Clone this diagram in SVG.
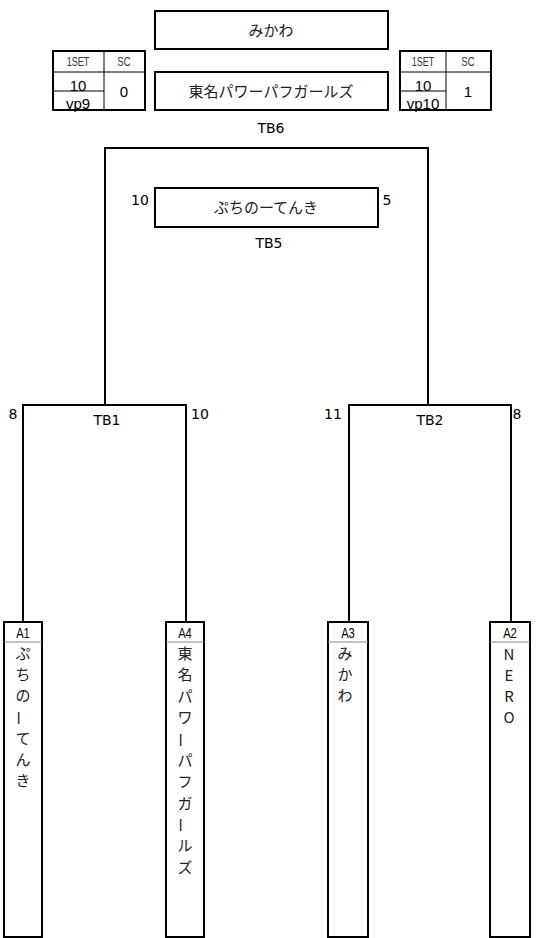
<svg xmlns="http://www.w3.org/2000/svg" width="539" height="938" viewBox="0 0 539 938">
<style>
.box{fill:#fff;stroke:#000;stroke-width:2}
.ln{fill:none;stroke:#000;stroke-width:2}
.thin{fill:none;stroke:#000;stroke-width:1}
.gray{stroke:#888;stroke-width:1}
.jp{font-family:"Noto Sans CJK JP","Liberation Sans",sans-serif;font-size:15px;fill:#222}
.lat{font-family:"DejaVu Sans","Liberation Sans",sans-serif;font-size:14px;fill:#000}
.cond{font-family:"Liberation Sans","DejaVu Sans",sans-serif;font-size:12px;fill:#333}
.hd{font-family:"Liberation Sans","DejaVu Sans",sans-serif;font-size:15px;fill:#000}
.ah{font-family:"Liberation Sans","DejaVu Sans",sans-serif;font-size:14px;fill:#000}
.v{font-family:"Noto Sans CJK JP","Liberation Sans",sans-serif;font-size:15px;fill:#222;text-anchor:middle}
</style>
<g id="connectors">
<polyline class="ln" points="105,406 105,148 428,148 428,406"/>
<polyline class="ln" points="23,622 23,405 186,405 186,622"/>
<polyline class="ln" points="349,622 349,405 511,405 511,622"/>
</g>
<g id="final-top"><rect class="box" x="155" y="11" width="233" height="38"/><text class="jp" x="271" y="36" text-anchor="middle">みかわ</text></g>
<g id="final-bottom"><rect class="box" x="155" y="72" width="233" height="38"/><text class="jp" x="271" y="97" text-anchor="middle">東名パワーパフガールズ</text></g>
<g id="score-left">
<rect class="box" x="53" y="51" width="92" height="59"/>
<line class="thin" x1="104" y1="51" x2="104" y2="110"/>
<line class="thin" x1="53" y1="72" x2="145" y2="72"/>
<line class="thin" x1="53" y1="91" x2="104" y2="91"/>
<text class="cond" x="78" y="66" text-anchor="middle" transform="translate(78 0) scale(0.75 1) translate(-78 0)">1SET</text>
<text class="cond" x="124" y="66" text-anchor="middle" transform="translate(124 0) scale(0.8 1) translate(-124 0)">SC</text>
<text class="hd" x="78" y="91" text-anchor="middle">10</text>
<text class="hd" x="78" y="109" text-anchor="middle">vp9</text>
<text class="hd" x="124" y="97" text-anchor="middle">0</text>
</g>
<g id="score-right">
<rect class="box" x="400" y="51" width="91" height="59"/>
<line class="thin" x1="446" y1="51" x2="446" y2="110"/>
<line class="thin" x1="400" y1="72" x2="491" y2="72"/>
<line class="thin" x1="400" y1="91" x2="446" y2="91"/>
<text class="cond" x="423" y="66" text-anchor="middle" transform="translate(423 0) scale(0.75 1) translate(-423 0)">1SET</text>
<text class="cond" x="468" y="66" text-anchor="middle" transform="translate(468 0) scale(0.8 1) translate(-468 0)">SC</text>
<text class="hd" x="423" y="91" text-anchor="middle">10</text>
<text class="hd" x="423" y="109" text-anchor="middle">vp10</text>
<text class="hd" x="468" y="97" text-anchor="middle">1</text>
</g>
<g id="tb6"><text class="lat" x="271" y="133" text-anchor="middle">TB6</text></g>
<g id="tb5">
<rect class="box" x="155" y="188" width="223" height="39"/>
<text class="jp" x="266" y="213" text-anchor="middle">ぷちのーてんき</text>
<text class="lat" x="140" y="205" text-anchor="middle">10</text>
<text class="lat" x="387" y="205" text-anchor="middle">5</text>
<text class="lat" x="269" y="248" text-anchor="middle">TB5</text>
</g>
<g id="tb1">
<text class="lat" x="13" y="419" text-anchor="middle">8</text>
<text class="lat" x="107" y="425" text-anchor="middle">TB1</text>
<text class="lat" x="200" y="419" text-anchor="middle">10</text>
</g>
<g id="tb2">
<text class="lat" x="333" y="419" text-anchor="middle">11</text>
<text class="lat" x="430" y="425" text-anchor="middle">TB2</text>
<text class="lat" x="517" y="419" text-anchor="middle">8</text>
</g>
<g id="A1">
<rect class="box" x="4" y="622" width="38" height="315"/>
<line class="gray" x1="4" y1="642" x2="42" y2="642"/>
<text class="ah" x="23" y="638" text-anchor="middle" transform="translate(23 0) scale(0.8 1) translate(-23 0)">A1</text>
<text class="v" x="23" y="659">ぷ</text><text class="v" x="23" y="680">ち</text><text class="v" x="23" y="701">の</text><text class="v" x="23" y="728" transform="rotate(90 23 718)">ー</text><text class="v" x="23" y="744">て</text><text class="v" x="23" y="765">ん</text><text class="v" x="23" y="786">き</text>
</g>
<g id="A4">
<rect class="box" x="166" y="622" width="38" height="315"/>
<line class="gray" x1="166" y1="642" x2="204" y2="642"/>
<text class="ah" x="185" y="638" text-anchor="middle" transform="translate(185 0) scale(0.8 1) translate(-185 0)">A4</text>
<text class="v" x="185" y="659">東</text><text class="v" x="185" y="680">名</text><text class="v" x="185" y="702">パ</text><text class="v" x="185" y="723">ワ</text><text class="v" x="185" y="750" transform="rotate(90 185 740)">ー</text><text class="v" x="185" y="766">パ</text><text class="v" x="185" y="787">フ</text><text class="v" x="185" y="809">ガ</text><text class="v" x="185" y="835" transform="rotate(90 185 825)">ー</text><text class="v" x="185" y="851">ル</text><text class="v" x="185" y="873">ズ</text>
</g>
<g id="A3">
<rect class="box" x="328" y="622" width="40" height="315"/>
<line class="gray" x1="328" y1="642" x2="368" y2="642"/>
<text class="ah" x="348" y="638" text-anchor="middle" transform="translate(348 0) scale(0.8 1) translate(-348 0)">A3</text>
<text class="v" x="345" y="659">み</text><text class="v" x="345" y="680">か</text><text class="v" x="345" y="701">わ</text>
</g>
<g id="A2">
<rect class="box" x="490" y="622" width="40" height="315"/>
<line class="gray" x1="490" y1="642" x2="530" y2="642"/>
<text class="ah" x="510" y="638" text-anchor="middle" transform="translate(510 0) scale(0.8 1) translate(-510 0)">A2</text>
<text class="v" x="509" y="660" font-size="13">N</text><text class="v" x="509" y="681" font-size="13">E</text><text class="v" x="509" y="702" font-size="13">R</text><text class="v" x="509" y="723" font-size="13">O</text>
</g>
</svg>
